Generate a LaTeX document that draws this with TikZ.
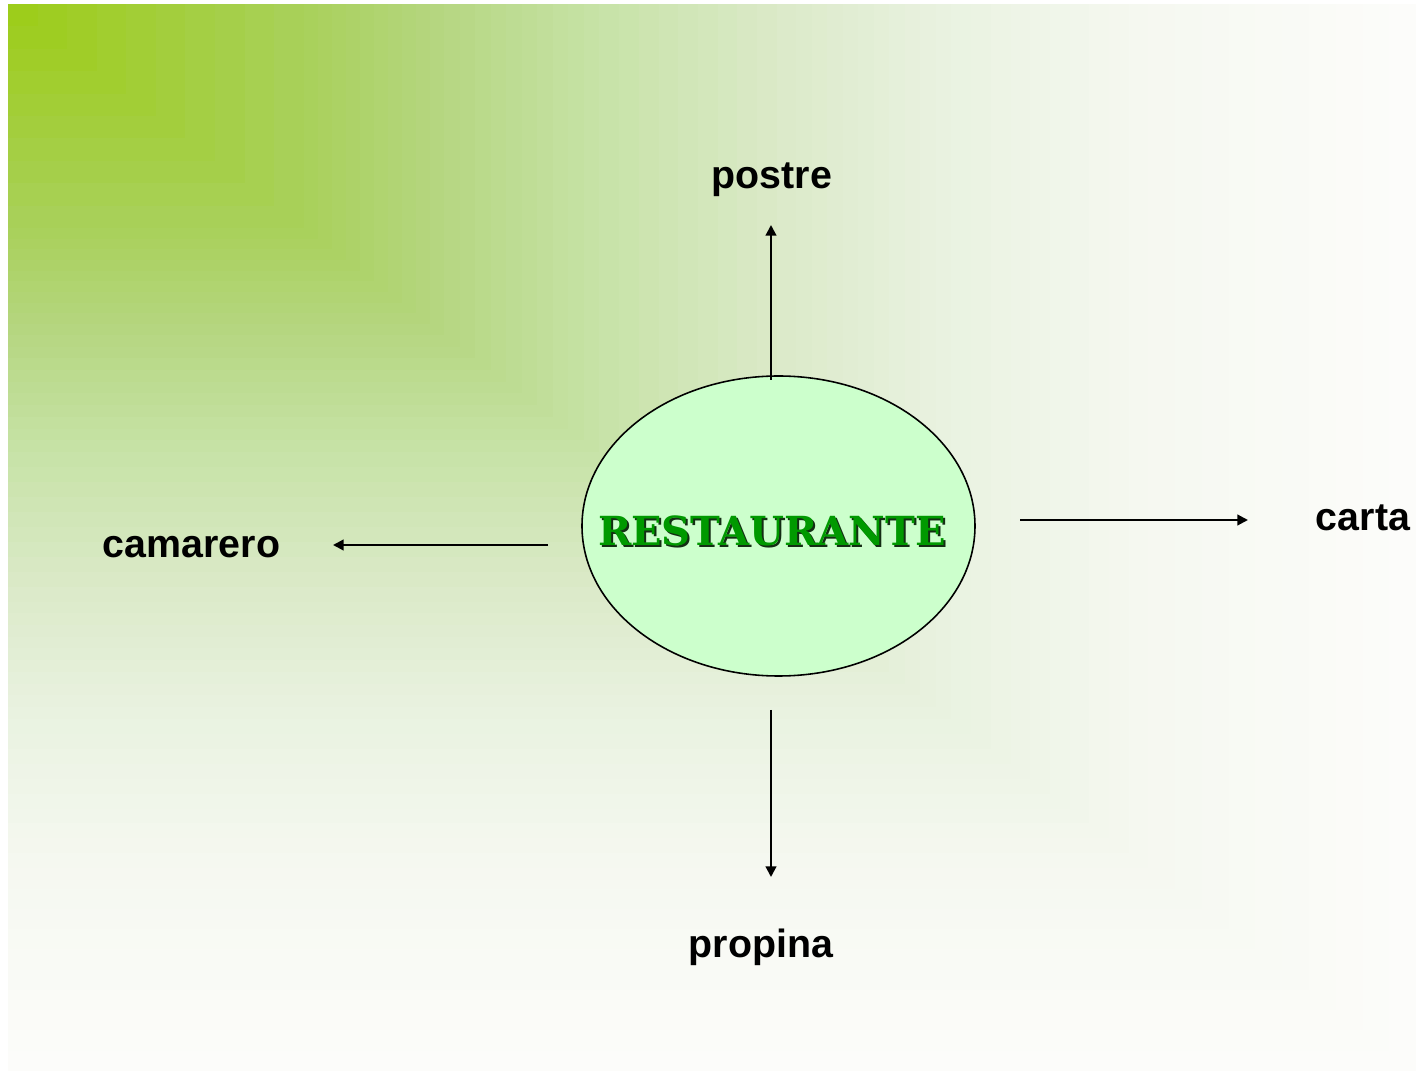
\documentclass[tikz,border=0pt]{standalone}
\usepackage{fontspec}
\newfontfamily\arialfont{Liberation Sans}
\newfontfamily\heavyfont{DejaVu Serif}
\usetikzlibrary{arrows.meta,shapes.geometric}

\definecolor{g0}{RGB}{156,204,20}
\definecolor{g1}{RGB}{168,208,88}
\definecolor{g2}{RGB}{181,214,128}
\definecolor{g3}{RGB}{198,226,165}
\definecolor{g4}{RGB}{220,234,202}
\definecolor{g5}{RGB}{233,242,224}
\definecolor{g6}{RGB}{245,248,240}
\definecolor{g7}{RGB}{252,252,250}
\definecolor{ellfill}{RGB}{204,255,204}
\definecolor{txtgreen}{RGB}{0,153,0}
\definecolor{txtshadow}{RGB}{20,45,20}

\tikzstyle{bigvertex}=[ellipse,draw=black,fill=ellfill,line width=0.45pt,minimum width=3.93cm,minimum height=3.0cm,inner sep=0pt]
\tikzstyle{title}=[font=\heavyfont\bfseries\fontsize{11.4}{14}\selectfont,inner sep=0pt]
\tikzstyle{word}=[font=\arialfont\bfseries\fontsize{11.2}{13}\selectfont,inner sep=0pt,anchor=base]
\tikzstyle{edge}=[draw,line width=0.6pt,-{Triangle[length=3pt,width=3pt]}]

\begin{document}
\begin{tikzpicture}

  \def\bx{0.08};
  \def\by{-0.04};
  \def\bw{14.08};
  \def\bh{10.67};

  \useasboundingbox (0,0) rectangle (14.16,-10.71);
  \fill[white] (0,0) rectangle (14.16,-10.71);

  % background, lighter away from the top left corner
  \foreach \sa/\sb/\ca/\cb in {1.00/0.81/g7/g6, 0.81/0.67/g6/g5, 0.67/0.56/g5/g4, 0.56/0.42/g4/g3, 0.42/0.31/g3/g2, 0.31/0.21/g2/g1, 0.21/0.00/g1/g0}
    \foreach \k in {0,...,9}{
      \pgfmathsetmacro{\s}{\sa-(\sa-\sb)*\k/10}
      \pgfmathtruncatemacro{\p}{\k*10}
      \fill[\cb!\p!\ca] (\bx,\by) rectangle ++(\bw*\s,-\bh*\s);
    }

  \node[bigvertex] (rest) at (7.785,-5.26) {};
  \node[title,txtshadow] (restshadow) at (7.74,-5.33) {RESTAURANTE};
  \node[title,txtgreen] (resttext) at (7.72,-5.31) {RESTAURANTE};

  \foreach \x/\y/\name/\label in {7.72/-1.89/postre/postre, 1.915/-5.575/camarero/camarero, 13.63/-5.31/carta/carta, 7.61/-9.58/propina/propina}
          \node[word] (\name) at (\x,\y) {\label};

  \foreach \x/\y/\name in {7.71/-3.80/upA, 7.71/-2.25/upB, 5.48/-5.45/leftA, 3.33/-5.45/leftB, 10.20/-5.20/rightA, 12.48/-5.20/rightB, 7.71/-7.10/downA, 7.71/-8.77/downB}
          \coordinate (\name) at (\x,\y);

  \foreach \source/\dest in {upA/upB, leftA/leftB, rightA/rightB, downA/downB}
         \path[edge] (\source) -- (\dest);

\end{tikzpicture}
\end{document}
